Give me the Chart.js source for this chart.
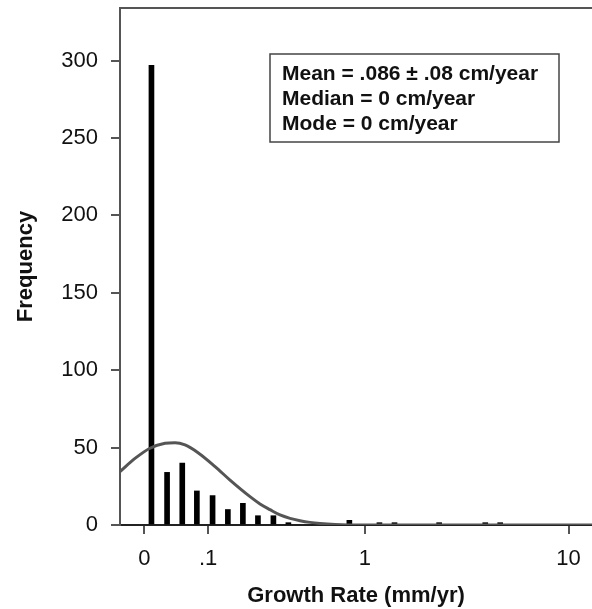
<!DOCTYPE html>
<html>
<head>
<meta charset="utf-8">
<script src="https://cdn.jsdelivr.net/npm/chart.js@4.4.1/dist/chart.umd.min.js"></script>
<style>
  html, body { margin: 0; padding: 0; background: #fff; overflow: hidden; }
  #wrap { width: 592px; height: 609px; }
</style>
</head>
<body>
<div id="wrap"><canvas id="c" width="592" height="609"></canvas></div>
<script>
// ---- data (growth rate in mm/yr, counts) ----
const xTickValues = [0, 0.1, 1, 10];
const xTickLabels = ['0', '.1', '1', '10'];
const yTickValues = [0, 50, 100, 150, 200, 250, 300];
const yMax = 334;
const xRange = [-0.0233, 12.93];

const binRates  = [0.008, 0.028, 0.051, 0.077, 0.110, 0.148, 0.192, 0.244, 0.307, 0.379, 0.83, 1.19, 1.42, 2.37, 3.98, 4.70];
const binCounts = [297, 34, 40, 22, 19, 10, 14, 6, 6, 1.5, 3, 1.5, 1.5, 1.5, 1.5, 1.5];

const curveRates = [-0.0233, -0.0097, 0.0063, 0.0252, 0.0396, 0.0556, 0.0793, 0.1158, 0.1539, 0.2156, 0.2519, 0.2924, 0.3374, 0.3876, 0.4436, 0.5061, 0.5759, 0.6957, 0.9445, 12.93];
const curveFreq  = [34.5, 43, 49.6, 52.8, 53.2, 51.7, 46.7, 37.7, 29, 18.3, 13.6, 9.9, 6.5, 4.3, 2.8, 1.7, 1.0, 0.4, 0.05, 0];

const statsLines = ['Mean = .086 \u00b1 .08 cm/year', 'Median = 0 cm/year', 'Mode = 0 cm/year'];
const xTitle = 'Growth Rate (mm/yr)';
const yTitle = 'Frequency';

// axis transform: log10(rate + 0.1)
const OFFSET = 0.1;
const toAxis = v => Math.log10(v + OFFSET);

const FONT = '"Liberation Sans", Arial, Helvetica, sans-serif';

const framePlugin = {
  id: 'frame',
  afterDatasetsDraw(chart) {
    const {ctx, chartArea: a} = chart;
    ctx.save();
    ctx.strokeStyle = '#555';
    ctx.lineWidth = 2;
    ctx.beginPath();
    ctx.moveTo(a.left - 1, a.top);
    ctx.lineTo(a.right + 2, a.top);
    ctx.stroke();
    ctx.restore();
  }
};

const statsPlugin = {
  id: 'statsBox',
  afterDraw(chart) {
    const {ctx, chartArea: a} = chart;
    const left = a.left + 150, top = a.top + 46, w = 289, h = 88;
    ctx.save();
    ctx.fillStyle = '#fff';
    ctx.fillRect(left, top, w, h);
    ctx.strokeStyle = '#444';
    ctx.lineWidth = 1.5;
    ctx.strokeRect(left, top, w, h);
    ctx.fillStyle = '#111';
    ctx.font = 'bold 21px ' + FONT;
    ctx.textBaseline = 'middle';
    ctx.textAlign = 'left';
    statsLines.forEach((t, i) => ctx.fillText(t, left + 12, top + 20 + i * 25));
    ctx.restore();
  }
};

new Chart(document.getElementById('c'), {
  type: 'bar',
  data: {
    datasets: [
      {
        type: 'line',
        data: curveRates.map((r, i) => ({x: toAxis(r), y: curveFreq[i]})),
        borderColor: '#555',
        borderWidth: 3,
        pointRadius: 0,
        cubicInterpolationMode: 'monotone',
        fill: false,
        order: 0
      },
      {
        type: 'bar',
        data: binRates.map((r, i) => ({x: toAxis(r), y: binCounts[i]})),
        backgroundColor: '#000',
        borderWidth: 0,
        barThickness: 5,
        order: 1
      }
    ]
  },
  options: {
    responsive: false,
    animation: false,
    devicePixelRatio: 1,
    layout: { padding: { top: 8, right: 0, bottom: 0, left: 0 } },
    plugins: { legend: { display: false }, tooltip: { enabled: false } },
    scales: {
      x: {
        type: 'linear',
        offset: false,
        min: toAxis(xRange[0]),
        max: toAxis(xRange[1]),
        afterBuildTicks: s => { s.ticks = xTickValues.map(v => ({value: toAxis(v)})); },
        afterFit: s => { s.height = 84; s.paddingLeft = 0; s.paddingRight = 0; },
        ticks: {
          callback: (v, i) => xTickLabels[i],
          font: { family: FONT, size: 22 },
          color: '#111',
          padding: 12,
          maxRotation: 0,
          autoSkip: false
        },
        grid: { offset: false, drawOnChartArea: false, drawTicks: true, tickLength: 9, color: '#555', lineWidth: 2 },
        border: { display: true, color: '#222', width: 2 },
        title: {
          display: true,
          text: xTitle,
          font: { family: FONT, size: 22, weight: 'bold' },
          color: '#111',
          padding: { top: 0, bottom: 0 }
        }
      },
      y: {
        type: 'linear',
        min: 0,
        max: yMax,
        afterBuildTicks: s => { s.ticks = yTickValues.map(v => ({value: v})); },
        afterFit: s => { s.width = 120; s.paddingTop = 0; s.paddingBottom = 0; },
        ticks: {
          font: { family: FONT, size: 22 },
          color: '#111',
          padding: 13
        },
        grid: { drawOnChartArea: false, drawTicks: true, tickLength: 9, color: '#555', lineWidth: 2 },
        border: { display: true, color: '#555', width: 2 },
        title: {
          display: true,
          text: yTitle,
          font: { family: FONT, size: 22, weight: 'bold' },
          color: '#111',
          padding: { top: 13, bottom: 0 }
        }
      }
    }
  },
  plugins: [framePlugin, statsPlugin]
});
</script>
</body>
</html>
